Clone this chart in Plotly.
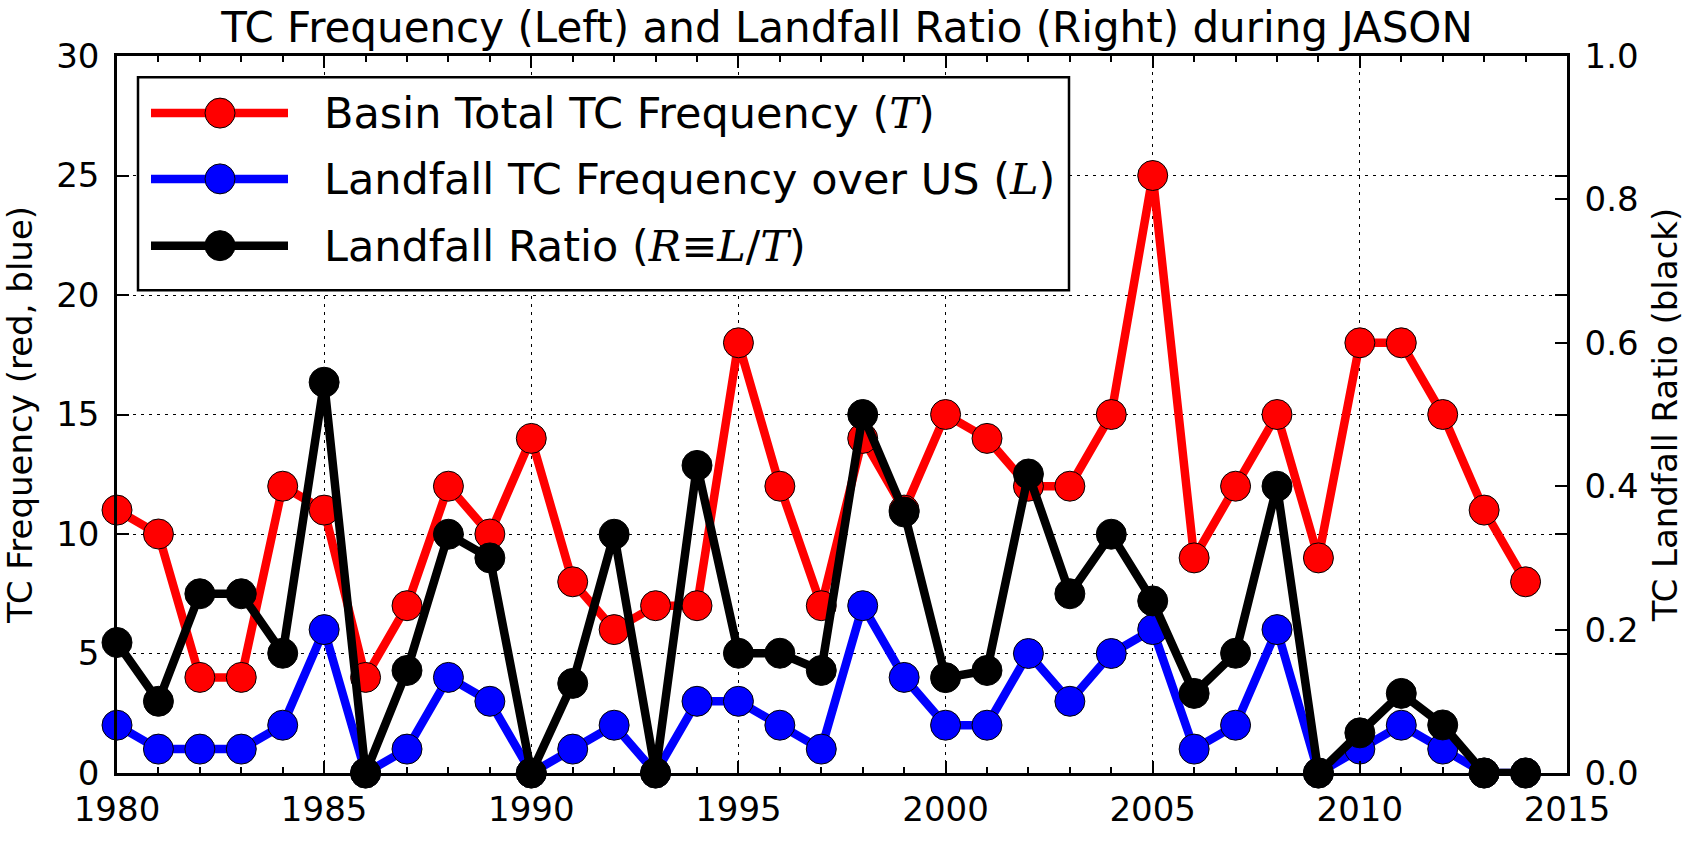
import plotly.graph_objects as go

# Annual tropical-cyclone counts, 1980-2014
years = list(range(1980, 2015))
basin_total = [11, 10, 4, 4, 12, 11, 4, 7, 12, 10, 14, 8, 6, 7, 7, 18, 12, 7, 14, 11,
               15, 14, 12, 12, 15, 25, 9, 12, 15, 9, 18, 18, 15, 11, 8]
landfall_us = [2, 1, 1, 1, 2, 6, 0, 1, 4, 3, 0, 1, 2, 0, 3, 3, 2, 1, 7, 4,
               2, 2, 5, 3, 5, 6, 1, 2, 6, 0, 1, 2, 1, 0, 0]
landfall_ratio = [0.182, 0.100, 0.250, 0.250, 0.167, 0.545, 0.0, 0.143, 0.333, 0.300,
                  0.0, 0.125, 0.333, 0.0, 0.429, 0.167, 0.167, 0.143, 0.500, 0.364,
                  0.133, 0.143, 0.417, 0.250, 0.333, 0.240, 0.111, 0.167, 0.400, 0.0,
                  0.056, 0.111, 0.067, 0.0, 0.0]

x_ticks = [1980, 1985, 1990, 1995, 2000, 2005, 2010, 2015]
y_left_ticks = [0, 5, 10, 15, 20, 25, 30]
y_right_ticks = [0.0, 0.2, 0.4, 0.6, 0.8, 1.0]

SERIF_I = "<span style=\"font-family:'DejaVu Serif';font-style:italic\">{}</span>"
series = [
    ("Basin Total TC Frequency (" + SERIF_I.format("T") + ")", "#ff0000"),
    ("Landfall TC Frequency over US (" + SERIF_I.format("L") + ")", "#0000ff"),
    ("Landfall Ratio (" + SERIF_I.format("R") + "≡" + SERIF_I.format("L") + "/"
     + SERIF_I.format("T") + ")", "#000000"),
]

FONT = "DejaVu Sans"
W, H = 1694, 841
PL, PT, PW, PH = 117, 56, 1450, 741

def px(x):
    return (x - PL) / PW

def py(y):
    return (PT + PH - y) / PH

LW = 8.5
MS = 30

fig = go.Figure()
for vals, (name, color), axis in [(basin_total, series[0], "y"),
                                  (landfall_us, series[1], "y"),
                                  (landfall_ratio, series[2], "y2")]:
    fig.add_trace(go.Scatter(
        x=years, y=vals, yaxis=axis, mode="lines+markers", name=name,
        line=dict(color=color, width=LW),
        marker=dict(size=MS, color=color, line=dict(color="black", width=1)),
        cliponaxis=False, showlegend=False,
    ))

axis_common = dict(
    showline=True, linecolor="black", linewidth=2.5,
    ticks="inside", tickcolor="black", tickwidth=1.5,
    tickfont=dict(family=FONT, size=34, color="black"),
    zeroline=False,
)
grid_style = dict(showgrid=True, gridcolor="black", gridwidth=1.4, griddash="3px,5px")

fig.update_layout(
    width=W, height=H,
    margin=dict(l=PL, r=W - PL - PW, t=PT, b=H - PT - PH),
    paper_bgcolor="white", plot_bgcolor="white",
    font=dict(family=FONT, color="black"),
    title=dict(text="TC Frequency (Left) and Landfall Ratio (Right) during JASON",
               font=dict(family=FONT, size=42, color="black"),
               x=0.5, xref="container", xanchor="center",
               y=1 - 27 / H, yref="container", yanchor="middle"),
    xaxis=dict(range=[1980, 2015], tickvals=x_ticks, ticklen=12, mirror="ticks",
               minor=dict(dtick=1, ticks="inside", ticklen=6, tickcolor="black", tickwidth=1.5),
               ticklabelstandoff=4, **grid_style, **axis_common),
    yaxis=dict(range=[0, 30], tickvals=y_left_ticks, ticklen=12, mirror="ticks",
               ticklabelstandoff=8,
               title=dict(text="TC Frequency (red, blue)",
                          font=dict(family=FONT, size=34, color="black"), standoff=20),
               **grid_style, **axis_common),
    yaxis2=dict(range=[0, 1], tickvals=y_right_ticks, tickformat=".1f", ticklen=12,
                overlaying="y", side="right", showgrid=False, ticklabelstandoff=8,
                title=dict(text="TC Landfall Ratio (black)",
                           font=dict(family=FONT, size=34, color="black"), standoff=16),
                **axis_common),
)

# Legend box with line/marker keys and labels
shapes = [dict(type="rect", xref="paper", yref="paper",
               x0=px(138), x1=px(1069), y0=py(78), y1=py(298),
               line=dict(color="black", width=2.5), fillcolor="white", layer="above")]
annotations = []
row_y = [115, 183, 252]
for (name, color), ry in zip(series, row_y):
    shapes.append(dict(type="line", xref="paper", yref="paper",
                       x0=px(151), x1=px(288), y0=py(ry), y1=py(ry),
                       line=dict(color=color, width=LW), layer="above"))
    shapes.append(dict(type="circle", xref="paper", yref="paper",
                       xsizemode="pixel", ysizemode="pixel",
                       xanchor=px(220), yanchor=py(ry),
                       x0=-MS / 2, x1=MS / 2, y0=-MS / 2, y1=MS / 2,
                       fillcolor=color, line=dict(color="black", width=1), layer="above"))
    annotations.append(dict(xref="paper", yref="paper", x=px(322), y=py(ry),
                            xanchor="left", yanchor="middle", showarrow=False,
                            text=name, font=dict(family=FONT, size=43, color="black")))

fig.update_layout(shapes=shapes, annotations=annotations)

fig.write_html("out.html")
